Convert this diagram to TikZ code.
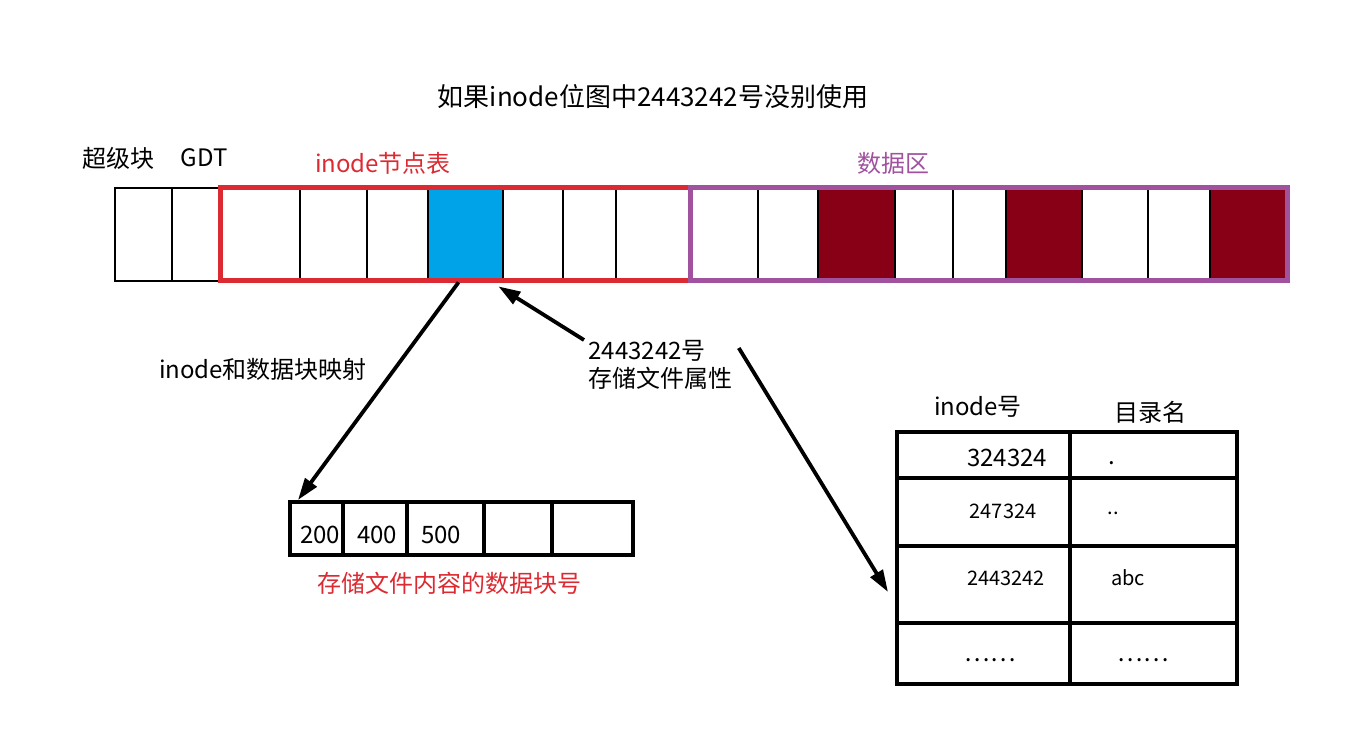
\documentclass[tikz,border=0pt]{standalone}
\usepackage{fontspec}
\setmainfont{Noto Sans CJK SC}
\usetikzlibrary{arrows.meta,positioning,calc}
\definecolor{tblred}{HTML}{DC2A32}
\definecolor{areapurple}{HTML}{A0529F}
\definecolor{usedblue}{HTML}{00A2E8}
\definecolor{usedred}{HTML}{880015}
\tikzset{
  cell/.style={draw=black, line width=1.4pt},
  bigarrow/.style={line width=1.9pt, -{Triangle[length=11pt, width=7pt]}},
  lbl/.style={font=\fontsize{12}{14}\selectfont, inner sep=0pt},
  small/.style={font=\fontsize{10}{12}\selectfont, inner sep=0pt}
}
\begin{document}
\begin{tikzpicture}[x=0.5pt, y=-0.5pt]
\useasboundingbox (0,0) rectangle (1371,732);
% title
\node[font=\fontsize{13}{15}\selectfont, inner sep=0pt] (title) at (653,97) {如果inode位图中2443242号没别使用};
% block group bar
\foreach \a/\b in {115/172, 172/220, 220/300, 300/367, 367/428, 503/563, 563/616, 616/690,
                   690/758, 758/818, 895/953, 953/1006, 1082/1148, 1148/1210}
  \draw[cell] (\a,188) rectangle (\b,281);
\foreach \a/\b in {818/895, 1006/1082, 1210/1287}
  \draw[cell, fill=usedred] (\a,188) rectangle (\b,281);
\node[cell, fill=usedblue, minimum width=37.5pt, minimum height=46.5pt, inner sep=0pt] (blue) at (465.5,234.5) {};
\draw[tblred, line width=2.5pt] (220,188) rectangle (690,281);
\draw[areapurple, line width=2.5pt] (690,188) rectangle (1287,281);
% area labels
\node[lbl] (sb) at (118,158) {超级块};
\node[lbl] (gdt) at (204,158) {GDT};
\node[lbl, text=tblred] (itab) at (383,163) {inode节点表};
\node[lbl, text=areapurple] (darea) at (893,163) {数据区};
% block number table
\draw[line width=1.8pt] (290,502) rectangle (633,555);
\foreach \x in {343, 407, 484, 552}
  \draw[line width=1.6pt] (\x,502) -- (\x,555);
\coordinate (blk) at (298,500);
\node[lbl] (n200) at (320,535) {200};
\node[lbl] (n400) at (377,535) {400};
\node[lbl] (n500) at (441,535) {500};
\node[lbl, text=tblred] (blkcap) at (449,583) {存储文件内容的数据块号};
\node[lbl] (map) at (263,369) {inode和数据块映射};
% inode label
\node[lbl, align=left, anchor=north west] (attr) at (588,340) {2443242号\\存储文件属性};
% directory table
\draw[line width=2pt] (897,432) rectangle (1237,684);
\draw[line width=2pt] (1070,432) -- (1070,684);
\foreach \y in {478, 546, 623}
  \draw[line width=2pt] (897,\y) -- (1237,\y);
\coordinate (dir) at (888,592);
\node[lbl] (hino) at (978,407) {inode号};
\node[lbl] (hname) at (1150,412) {目录名};
\node[lbl] (r1a) at (1007,458) {324324};
\node[lbl] (r1b) at (1112,463) {.};
\node[small] (r2a) at (1003,511) {247324};
\node[small] (r2b) at (1113,513) {..};
\node[small] (r3a) at (1006,578) {2443242};
\node[small] (r3b) at (1128,578) {abc};
\node[lbl] (r4a) at (990,660) {……};
\node[lbl] (r4b) at (1143,660) {……};
% arrows
\draw[bigarrow] ([xshift=-3.5pt]blue.south) -- (blk);
\draw[bigarrow] ([xshift=-2pt]attr.north west) -- ([xshift=-3pt, yshift=-2pt]blue.south east);
\draw[bigarrow] ([xshift=3pt, yshift=-4pt]attr.north east) -- (dir);
\end{tikzpicture}
\end{document}
